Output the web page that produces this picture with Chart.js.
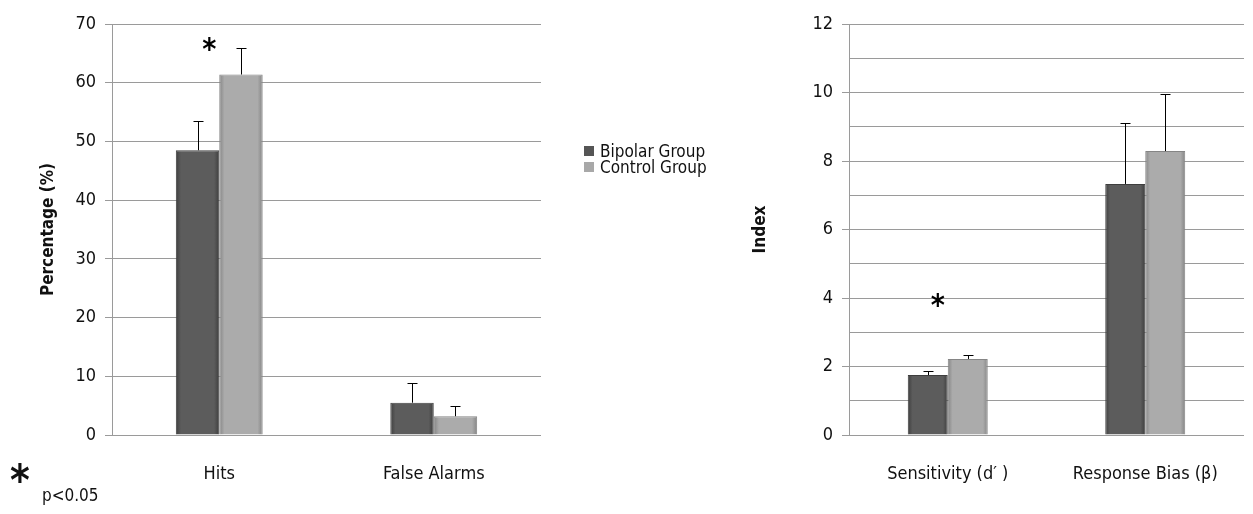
<!DOCTYPE html>
<html>
<head>
<meta charset="utf-8">
<script src="https://cdn.jsdelivr.net/npm/chart.js@4.4.0/dist/chart.umd.min.js"></script>
<style>
  body { margin: 0; background: #fff; width: 1253px; height: 514px; overflow: hidden; position: relative;
         font-family: "Liberation Sans Narrow", "DejaVu Sans Condensed", sans-serif; color: #111; }
  #leftBox { position: absolute; left: 0; top: 0; width: 560px; height: 514px; }
  #rightBox { position: absolute; left: 700px; top: 0; width: 553px; height: 514px; }
  .legend { position: absolute; left: 584px; font-size: 17px; line-height: 17px; }
  .legend span { display: inline-block; width: 10px; height: 10px; margin-right: 6px; vertical-align: 1px; }
  .note-star { position: absolute; left: 10px; top: 460px; font-size: 42px; line-height: 42px; font-weight: bold; }
  .note-p { position: absolute; left: 42px; top: 485px; font-size: 17px; }
</style>
</head>
<body>
<div id="leftBox"><canvas id="leftChart"></canvas></div>
<div id="rightBox"><canvas id="rightChart"></canvas></div>
<div class="legend" style="top:143px"><span style="background:#555"></span>Bipolar Group</div>
<div class="legend" style="top:159px"><span style="background:#a8a8a8"></span>Control Group</div>
<div class="note-star">*</div>
<div class="note-p">p&lt;0.05</div>
<script>
const FONT = '"Liberation Sans Narrow", "DejaVu Sans Condensed", sans-serif';
const GRID = '#9a9a9a';

// left panel
const leftLabels = ['Hits', 'False Alarms'];
const leftBipolar = [48.5, 5.5];
const leftBipolarErr = [4.9, 3.4];
const leftControl = [61.4, 3.2];
const leftControlErr = [4.5, 1.8];
const leftStars = [{index: 0, value: 66.4}];

// right panel
const rightLabels = ['Sensitivity (d\u2032 )', 'Response Bias (\u03b2)'];
const rightBipolar = [1.75, 7.33];
const rightBipolarErr = [0.12, 1.78];
const rightControl = [2.22, 8.29];
const rightControlErr = [0.12, 1.67];
const rightStars = [{index: 0, value: 3.9}];

const groupNames = ['Bipolar Group', 'Control Group'];
const groupEdge = ['#3e3e3e', '#858585'];
const groupMid = ['#5c5c5c', '#ababab'];
const CAT_PCT = 0.405;

// shaded fill across the bar width, worked out from the x scale
function barFill(c) {
  const chart = c.chart;
  const xs = chart.scales.x;
  const i = c.datasetIndex;
  if (!xs || xs.width == null || c.dataIndex == null) return groupMid[i];
  const catW = xs.width / chart.data.labels.length;
  const w = catW * CAT_PCT / 2;
  const left = xs.getPixelForValue(c.dataIndex) - w + i * w;
  const g = chart.ctx.createLinearGradient(left, 0, left + w, 0);
  g.addColorStop(0, groupEdge[i]);
  g.addColorStop(0.12, groupMid[i]);
  g.addColorStop(0.88, groupMid[i]);
  g.addColorStop(1, groupEdge[i]);
  return g;
}

// draws upward error bars and significance stars
const extrasPlugin = {
  id: 'extras',
  afterDatasetsDraw(chart, args, opts) {
    const ctx = chart.ctx;
    const y = chart.scales.y;
    const x = chart.scales.x;
    ctx.save();
    ctx.strokeStyle = '#000';
    ctx.lineWidth = 1;
    opts.errors.forEach((errs, di) => {
      const meta = chart.getDatasetMeta(di);
      meta.data.forEach((bar, i) => {
        const v = chart.data.datasets[di].data[i];
        const top = Math.round(y.getPixelForValue(v + errs[i])) + 0.5;
        const bx = Math.round(bar.x) + 0.5;
        ctx.beginPath();
        ctx.moveTo(bx, bar.y);
        ctx.lineTo(bx, top);
        ctx.moveTo(bx - 5, top);
        ctx.lineTo(bx + 5, top);
        ctx.stroke();
      });
    });
    ctx.fillStyle = '#000';
    ctx.font = 'bold 30px ' + FONT;
    ctx.textAlign = 'center';
    ctx.textBaseline = 'middle';
    opts.stars.forEach(s => {
      ctx.fillText('*', x.getPixelForValue(s.index) - 10, y.getPixelForValue(s.value) + 6);
    });
    ctx.restore();
  }
};

function makeChart(id, labels, bip, ctl, errs, stars, yOpts, yWidth, titleText, titlePad, padRight) {
  return new Chart(document.getElementById(id), {
    type: 'bar',
    data: {
      labels: labels,
      datasets: [bip, ctl].map((d, i) => ({
        label: groupNames[i],
        data: d,
        backgroundColor: barFill,
        borderColor: groupEdge[i],
        borderWidth: 1,
        categoryPercentage: CAT_PCT,
        barPercentage: 1
      }))
    },
    options: {
      responsive: true,
      maintainAspectRatio: false,
      animation: false,
      layout: { padding: { top: 24, right: padRight, left: 0, bottom: 0 } },
      plugins: {
        legend: { display: false },
        tooltip: { enabled: false },
        extras: { errors: errs, stars: stars }
      },
      scales: {
        x: {
          grid: { display: false },
          border: { display: false },
          ticks: { color: '#111', font: { family: FONT, size: 18 }, padding: 21 },
          afterFit(scale) { scale.height = 514 - 435; }
        },
        y: Object.assign({
          beginAtZero: true,
          grid: { color: GRID, lineWidth: 1, tickLength: 7, tickColor: yOpts.tickColor || GRID },
          border: { display: true, color: GRID },
          title: { display: true, text: titleText, color: '#111',
                   font: { family: FONT, size: 17, weight: 'bold' }, padding: { top: titlePad, bottom: 0 } },
          afterFit(scale) { scale.width = yWidth; }
        }, yOpts.scale)
      }
    },
    plugins: [extrasPlugin]
  });
}

makeChart('leftChart', leftLabels, leftBipolar, leftControl, [leftBipolarErr, leftControlErr], leftStars, {
  scale: { min: 0, max: 70, ticks: { stepSize: 10, color: '#111', padding: 9, font: { family: FONT, size: 18 } } }
}, 112, 'Percentage (%)', 38, 19);

makeChart('rightChart', rightLabels, rightBipolar, rightControl, [rightBipolarErr, rightControlErr], rightStars, {
  tickColor: c => (c.tick && c.tick.value % 2 !== 0) ? 'rgba(0,0,0,0)' : GRID,
  scale: { min: 0, max: 12, ticks: { stepSize: 1, color: '#111', padding: 9, font: { family: FONT, size: 18 },
           callback: v => (v % 2 === 0 ? v : '') } }
}, 149, 'Index', 50, 9);
</script>
</body>
</html>
